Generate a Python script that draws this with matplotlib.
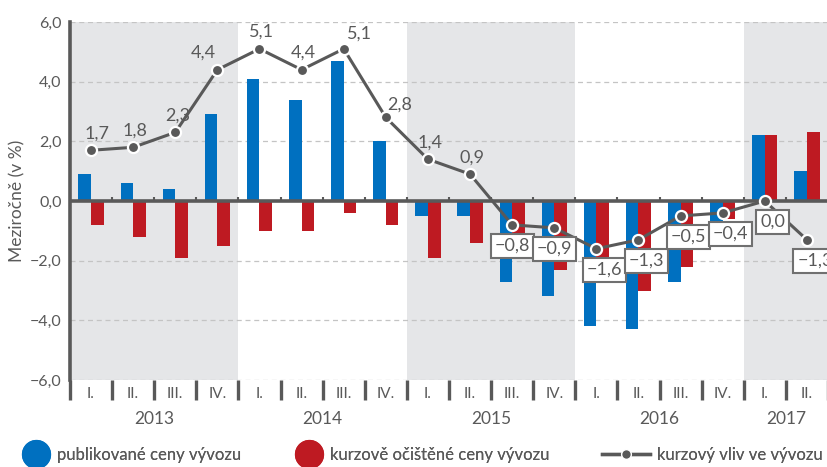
import matplotlib
matplotlib.use("Agg")
import matplotlib.pyplot as plt
from matplotlib.lines import Line2D
import numpy as np

quarters = ["I.", "II.", "III.", "IV.", "I.", "II.", "III.", "IV.", "I.", "II.", "III.", "IV.",
            "I.", "II.", "III.", "IV.", "I.", "II."]
years = ["2013", "2014", "2015", "2016", "2017"]
published = [0.9, 0.6, 0.4, 2.9, 4.1, 3.4, 4.7, 2.0, -0.5, -0.5, -2.7, -3.2,
             -4.2, -4.3, -2.7, -1.0, 2.2, 1.0]
adjusted = [-0.8, -1.2, -1.9, -1.5, -1.0, -1.0, -0.4, -0.8, -1.9, -1.4, -1.8, -2.3,
            -2.6, -3.0, -2.2, -0.6, 2.2, 2.3]
fx_effect = [1.7, 1.8, 2.3, 4.4, 5.1, 4.4, 5.1, 2.8, 1.4, 0.9, -0.8, -0.9,
             -1.6, -1.3, -0.5, -0.4, 0.0, -1.3]

BLUE = "#0070c0"
RED = "#be1a22"
GREY = "#595959"
SHADE = "#e5e6e8"

plt.rcParams["font.family"] = ["Lato", "DejaVu Sans"]

fig = plt.figure(figsize=(8.28, 4.67), dpi=100)
ax = fig.add_axes([70 / 828, 1 - 380 / 467, 1 - 70 / 828, 358 / 467])

x = np.arange(len(quarters))
ax.set_xlim(-0.5, len(quarters) - 0.5)
ax.set_ylim(-6, 6)

# shaded years
for start in (0, 8, 16):
    ax.axvspan(start - 0.5, min(start + 3.5, len(quarters) - 0.5), color=SHADE, lw=0, zorder=0)

for yv in np.arange(-6, 7, 2):
    if yv != 0:
        ax.axhline(yv, color="#c4c4c4", lw=0.9, ls=(0, (4, 3)), zorder=1)

w = 0.3
ax.bar(x - w / 2, published, w, color=BLUE, zorder=2)
ax.bar(x + w / 2, adjusted, w, color=RED, zorder=2)

ax.axhline(0, color=GREY, lw=2.6, zorder=3)
ax.vlines(np.arange(0.5, len(quarters) - 0.5), 0, 0.13, color=GREY, lw=1.5, zorder=3)

ax.plot(x, fx_effect, color=GREY, lw=2.2, marker="o", ms=8, mfc=GREY, mec="white", mew=1.6, zorder=5)

# value labels
pos_offsets = {0: (6, 17), 3: (-14, 17), 6: (16, 15), 7: (14, 13)}
for i, v in enumerate(fx_effect):
    txt = f"{v:.1f}".replace(".", ",").replace("-", "\u2212")
    if v > 0:
        dx, dy = pos_offsets.get(i, (2, 17))
        ax.annotate(txt, (x[i], v), xytext=(dx, dy), textcoords="offset pixels",
                    ha="center", va="center", fontsize=13, color=GREY, zorder=6)
    else:
        dx = 8 if i >= 12 else 0
        ax.annotate(txt, (x[i], v), xytext=(dx, -21), textcoords="offset pixels",
                    ha="center", va="center", fontsize=13, color=GREY, zorder=6,
                    bbox=dict(boxstyle="square,pad=0.22", fc="white", ec="#707070", lw=1.5))

# axes styling
for s in ("top", "right", "bottom"):
    ax.spines[s].set_visible(False)
ax.spines["left"].set_color(GREY)
ax.spines["left"].set_linewidth(2.6)
ax.spines["left"].set_zorder(4)

ax.set_yticks(np.arange(-6, 7, 2))
ax.set_yticklabels([f"{v:.1f}".replace(".", ",").replace("-", "\u2212") for v in np.arange(-6, 7, 2)])
ax.tick_params(axis="y", length=0, pad=6, labelsize=11.5, labelcolor=GREY)

ax.set_xticks(x)
ax.set_xticklabels(quarters)
ax.tick_params(axis="x", which="major", length=0, pad=5, labelsize=11, labelcolor=GREY)
ax.set_xticks(np.arange(-0.5, len(quarters)), minor=True)
ax.tick_params(axis="x", which="minor", length=14.5, width=2.4, color=GREY, direction="out")

ax.set_ylabel("Meziročně (v %)", fontsize=12.5, color=GREY, labelpad=3)

year_centers = [1.5, 5.5, 9.5, 13.5, 16.5]
for yc, lab in zip(year_centers, years):
    ax.text(yc, -0.11, lab, transform=ax.get_xaxis_transform(), ha="center", va="center",
            fontsize=12.5, color=GREY)

# legend, one item at a time
items = [
    (Line2D([], [], ls="none", marker="o", ms=20, color=BLUE), "publikované ceny vývozu", 22, 1.7),
    (Line2D([], [], ls="none", marker="o", ms=20, color=RED), "kurzově očištěné ceny vývozu", 295, 1.7),
    (Line2D([], [], color=GREY, lw=2.4, marker="o", ms=7, mec="white", mew=1), "kurzový vliv ve vývozu", 602, 2.9),
]
for handle, label, left, hlen in items:
    leg = fig.legend([handle], [label], loc="center left", bbox_to_anchor=(left / 828, 1 - 455 / 467),
                     frameon=False, fontsize=12, handlelength=hlen, handletextpad=0.42,
                     borderpad=0, borderaxespad=0, labelcolor=GREY)
    fig.add_artist(leg)

fig.savefig("out.png", dpi=100)
